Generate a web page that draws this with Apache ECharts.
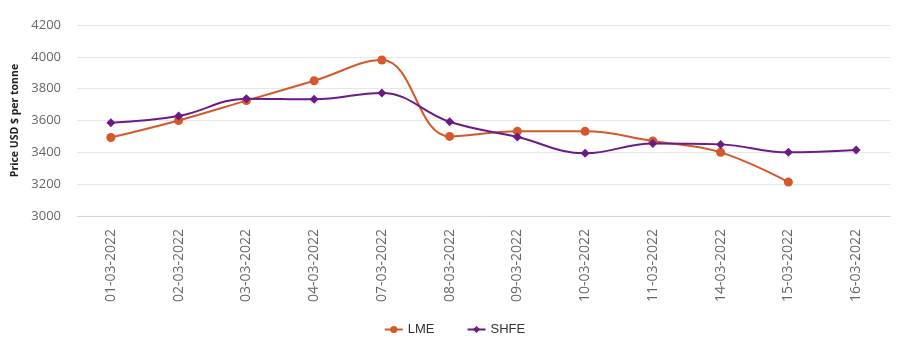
<!DOCTYPE html>
<html>
<head>
<meta charset="utf-8">
<script src="https://cdn.jsdelivr.net/npm/echarts@6/dist/echarts.min.js"></script>
<style>html,body{margin:0;padding:0;background:#fff;}#c{width:909px;height:353px;}</style>
</head>
<body>
<div id="c"></div>
<script>
var categories = ['01-03-2022','02-03-2022','03-03-2022','04-03-2022','07-03-2022','08-03-2022','09-03-2022','10-03-2022','11-03-2022','14-03-2022','15-03-2022','16-03-2022'];
var lme = [3493, 3600, 3725, 3850, 3980, 3500, 3532, 3532, 3471, 3400, 3213, null];
var shfe = [3586, 3628, 3737, 3733, 3773, 3592, 3496, 3394, 3456, 3450, 3400, 3415];
var yTicks = [3000, 3200, 3400, 3600, 3800, 4000, 4200];

var chart = echarts.init(document.getElementById('c'), null, {renderer: 'canvas'});
chart.setOption({
  animation: false,
  backgroundColor: '#ffffff',
  grid: {left: 77, right: 19, top: 25, bottom: 137},
  legend: {
    bottom: 12,
    left: 'center',
    itemWidth: 18,
    itemHeight: 9,
    itemGap: 32,
    textStyle: {color: '#333', fontSize: 13, fontFamily: 'Liberation Sans Narrow, Arial Narrow, sans-serif'},
    data: ['LME', 'SHFE']
  },
  xAxis: {
    type: 'category',
    data: categories,
    boundaryGap: true,
    axisLine: {lineStyle: {color: '#ccd6eb'}},
    axisTick: {length: 10, lineStyle: {color: '#ccd6eb'}},
    axisLabel: {rotate: 90, margin: 13, color: '#666', fontSize: 14, fontFamily: 'Open Sans, sans-serif'}
  },
  yAxis: {
    type: 'value',
    min: yTicks[0],
    max: yTicks[yTicks.length - 1],
    interval: 200,
    name: 'Price USD $ per tonne',
    nameLocation: 'middle',
    nameGap: 56,
    nameTextStyle: {fontSize: 10.5, fontWeight: 'bold', color: '#222', fontFamily: 'Open Sans, sans-serif'},
    axisLine: {show: false},
    axisTick: {show: false},
    axisLabel: {color: '#666', fontSize: 13, margin: 16, fontFamily: 'Open Sans, sans-serif', formatter: function (v) { return String(v); }},
    splitLine: {lineStyle: {color: '#e6e6e6'}}
  },
  series: [
    {
      name: 'LME', type: 'line', data: lme, smooth: 0.4,
      symbol: 'circle', symbolSize: 9,
      itemStyle: {color: '#d4582a'},
      lineStyle: {width: 2, color: '#d4582a'}
    },
    {
      name: 'SHFE', type: 'line', data: shfe, smooth: 0.4,
      symbol: 'diamond', symbolSize: 9,
      itemStyle: {color: '#6b1a86'},
      lineStyle: {width: 2, color: '#6b1a86'}
    }
  ]
});
</script>
</body>
</html>
